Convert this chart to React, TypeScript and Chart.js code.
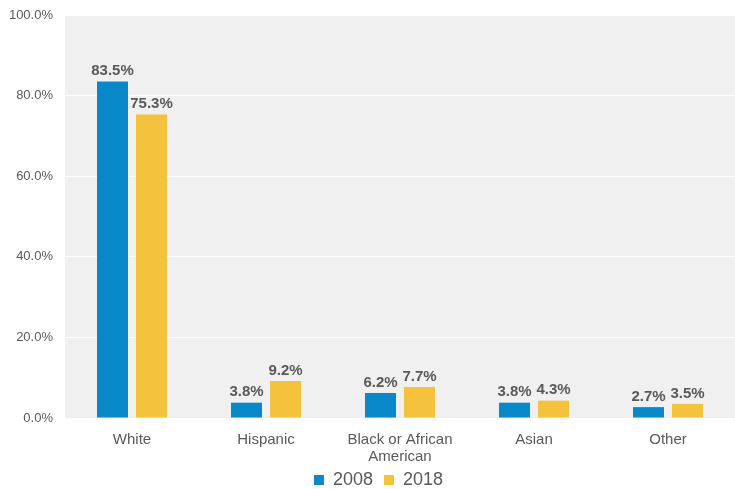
import React, { useEffect, useRef } from "react";
import { Chart, registerables } from "chart.js";

Chart.register(...registerables);

const categories: (string | string[])[] = ["White", "Hispanic", ["Black or African", "American"], "Asian", "Other"];
const series2008 = [83.5, 3.8, 6.2, 3.8, 2.7];
const series2018 = [75.3, 9.2, 7.7, 4.3, 3.5];
const seriesNames = ["2008", "2018"];
const yTicks = [0, 20, 40, 60, 80, 100];

const BLUE = "#0888c9";
const YELLOW = "#f4c23c";
const TEXT = "#595959";
const FONT = "'Liberation Sans', Arial, sans-serif";

const bgPlugin = {
  id: "plotBg",
  beforeDraw(chart: any) {
    const { ctx, chartArea } = chart;
    ctx.save();
    ctx.fillStyle = "#f0f0f0";
    ctx.fillRect(chartArea.left, chartArea.top, chartArea.right - chartArea.left, chartArea.bottom - chartArea.top);
    ctx.restore();
  },
};

const legendShift = {
  id: "legendShift",
  afterLayout(chart: any) {
    const lg = chart.legend;
    if (lg) {
      lg.left += 11;
      lg.right += 11;
      lg.top -= 8;
      lg.bottom -= 8;
    }
  },
};

const labelPlugin = {
  id: "barLabels",
  afterDatasetsDraw(chart: any) {
    const { ctx } = chart;
    ctx.save();
    ctx.font = "bold 15px " + FONT;
    ctx.fillStyle = TEXT;
    ctx.textAlign = "center";
    ctx.textBaseline = "bottom";
    chart.data.datasets.forEach((ds: any, i: number) => {
      const meta = chart.getDatasetMeta(i);
      meta.data.forEach((bar: any, j: number) => {
        ctx.fillText(ds.data[j].toFixed(1) + "%", bar.x, bar.y - 3);
      });
    });
    ctx.restore();
  },
};

export default function App() {
  const ref = useRef<HTMLCanvasElement>(null);
  useEffect(() => {
    if (!ref.current) return;
    const chart = new Chart(ref.current, {
      type: "bar",
      data: {
        labels: categories,
        datasets: [
          { label: seriesNames[0], data: series2008, backgroundColor: BLUE },
          { label: seriesNames[1], data: series2018, backgroundColor: YELLOW },
        ],
      },
      options: {
        animation: false,
        responsive: false,
        maintainAspectRatio: false,
        layout: { padding: { top: 15, right: 0, left: 0, bottom: -18 } },
        datasets: { bar: { categoryPercentage: 0.582, barPercentage: 0.795 } } as any,
        plugins: {
          tooltip: { enabled: false },
          legend: {
            position: "bottom",
            labels: {
              boxWidth: 10,
              boxHeight: 10,
              padding: 11,
              color: TEXT,
              font: { size: 18, family: FONT },
            },
          },
        },
        scales: {
          x: {
            grid: { display: false, drawTicks: false },
            border: { display: false },
            ticks: {
              color: TEXT,
              padding: 13,
              maxRotation: 0,
              autoSkip: false,
              font: { size: 15, lineHeight: 1.15, family: FONT },
            },
            afterFit: (s: any) => { s.height = 50; s.paddingLeft = 0; s.paddingRight = 0; },
          },
          y: {
            min: 0,
            max: 100,
            afterBuildTicks: (s: any) => { s.ticks = yTicks.map((v) => ({ value: v })); },
            grid: { color: "#ffffff", lineWidth: 1, drawTicks: false },
            border: { display: false },
            ticks: {
              color: TEXT,
              padding: 12,
              font: { size: 13, family: FONT },
              callback: (v: any) => Number(v).toFixed(1) + "%",
            },
            afterFit: (s: any) => { s.width = 65; s.paddingTop = 0; s.paddingBottom = 0; },
          },
        },
      },
      plugins: [bgPlugin, labelPlugin, legendShift],
    });
    return () => chart.destroy();
  }, []);
  return (
    <div style={{ position: "fixed", left: 0, top: 0, width: 735, height: 489, background: "#fff" }}>
      <canvas ref={ref} width={735} height={489} style={{ display: "block", width: 735, height: 489 }} />
    </div>
  );
}
